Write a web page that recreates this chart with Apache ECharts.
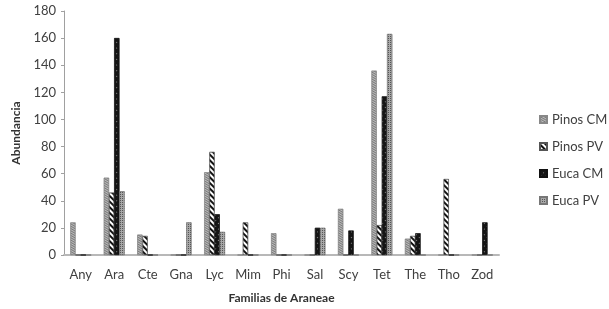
<!DOCTYPE html>
<html>
<head>
<meta charset="utf-8">
<script src="https://cdn.jsdelivr.net/npm/echarts@6/dist/echarts.min.js"></script>
<style>html,body{margin:0;padding:0;background:#fff}#c{width:609px;height:309px}</style>
</head>
<body>
<div id="c"></div>
<script>
var categories = ['Any','Ara','Cte','Gna','Lyc','Mim','Phi','Sal','Scy','Tet','The','Tho','Zod'];
var pinosCM = [24, 57, 15, 0, 61, 0, 16, 0, 34, 136, 12, 0, 0];
var pinosPV = [0, 46, 14, 0, 76, 24, 0, 0, 0, 22, 14, 56, 0];
var eucaCM  = [0, 160, 0, 0, 30, 0, 0, 20, 18, 117, 16, 0, 24];
var eucaPV  = [0, 47, 0, 24, 17, 0, 0, 20, 0, 163, 0, 0, 0];
var yTicks = [0, 20, 40, 60, 80, 100, 120, 140, 160, 180];

var font = 'Lato';
var chart = echarts.init(document.getElementById('c'));
function ser(name, data, color, decal, border) {
  return {
    name: name, type: 'bar', data: data,
    barGap: '0%', barCategoryGap: '38%',
    itemStyle: { color: color, decal: decal, borderColor: border, borderWidth: 0.5 }
  };
}
chart.setOption({
  animation: false,
  aria: { enabled: true, decal: { show: true } },
  grid: { left: 64, right: 110, top: 11, bottom: 50 },
  legend: {
    orient: 'vertical', left: 534, top: 108, itemGap: 14,
    itemWidth: 7, itemHeight: 7, icon: 'rect',
    textStyle: { fontFamily: font, fontSize: 13, color: '#404040' },
    data: ['Pinos CM', 'Pinos PV', 'Euca CM', 'Euca PV']
  },
  xAxis: {
    type: 'category', data: categories,
    name: 'Familias de Araneae', nameLocation: 'middle', nameGap: 37,
    nameTextStyle: { fontFamily: font, fontSize: 12, fontWeight: 'bold', color: '#333' },
    axisLine: { lineStyle: { color: '#b8b8b8', width: 2 } },
    axisTick: { show: false },
    axisLabel: { interval: 0, fontFamily: font, fontSize: 13, color: '#404040', margin: 13 }
  },
  yAxis: {
    type: 'value', min: 0, max: 180, interval: 20,
    name: 'Abundancia', nameLocation: 'middle', nameGap: 40,
    nameTextStyle: { fontFamily: font, fontSize: 12, fontWeight: 'bold', color: '#333' },
    axisLine: { show: true, lineStyle: { color: '#a0a0a0' } },
    axisTick: { show: true, length: 3, lineStyle: { color: '#a0a0a0' } },
    splitLine: { show: false },
    axisLabel: { fontFamily: font, fontSize: 13, color: '#404040', margin: 8,
      formatter: function (v) { return yTicks.indexOf(v) >= 0 ? String(v) : ''; } }
  },
  series: [
    ser('Pinos CM', pinosCM, '#bdbdbd',
      { symbol: 'rect', symbolSize: 1, dashArrayX: [1, 0], dashArrayY: [1, 1], color: '#7a7a7a' }, '#888'),
    ser('Pinos PV', pinosPV, '#ffffff',
      { symbol: 'rect', symbolSize: 1, dashArrayX: [1, 0], dashArrayY: [2, 2], rotation: Math.PI / 4, color: '#111' }, '#555'),
    ser('Euca CM', eucaCM, '#151515',
      { symbol: 'rect', symbolSize: 1, dashArrayX: [[1, 3]], dashArrayY: [1, 3], color: '#888' }, '#111'),
    ser('Euca PV', eucaPV, '#a8a8a8',
      { symbol: 'rect', symbolSize: 1, dashArrayX: [1, 1], dashArrayY: [1, 1], color: '#555' }, '#777')
  ]
});
</script>
</body>
</html>
